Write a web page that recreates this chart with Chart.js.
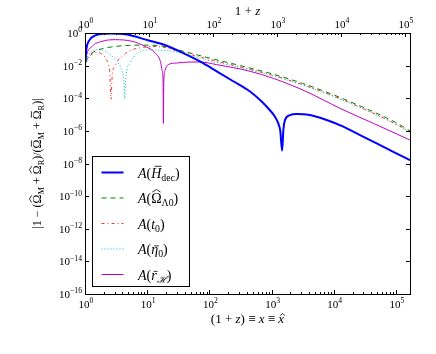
<!DOCTYPE html>
<html lang="en">
<head>
  <meta charset="UTF-8">
  <title>Flatness error vs redshift</title>
  <script src="https://cdn.jsdelivr.net/npm/chart.js"></script>
  <style>
    body { margin: 0; background: #fff; }
  </style>
</head>
<body>
  <canvas id="chart" width="436" height="354"></canvas>

  <script>
    // values (x = 1+z, y = |...|)
    const hdecX = [1.01, 1.05, 1.15, 1.47, 2.1, 2.6, 4.45, 10.6, 17.3, 38, 70.6, 131, 242, 450, 692, 933, 1122, 1280, 1380, 1475, 1550, 1641, 1977, 2520, 4140, 7690, 14200, 26400, 48900, 90500, 168000];
    const hdecY = [1.6e-2, 0.1, 0.32, 0.71, 0.91, 0.93, 0.83, 0.35, 0.21, 5.9e-2, 1.8e-2, 4.5e-3, 1.1e-3, 2.6e-4, 6.3e-5, 1.9e-5, 7.9e-6, 2.9e-6, 1.0e-6, 6.0e-8, 1.3e-6, 4.6e-6, 9.3e-6, 1.07e-5, 9.3e-6, 4.6e-6, 1.8e-6, 5.5e-7, 1.7e-7, 5.2e-8, 1.6e-8];

    const omegaX = [1.01, 1.05, 1.15, 1.3, 1.9, 2.7, 4.4, 7.7, 11, 17, 31.6, 100, 316, 1000, 3162, 10000, 31600, 100000, 168000];
    const omegaY = [5.0e-3, 1.6e-2, 3.5e-2, 5.9e-2, 0.11, 0.14, 0.17, 0.18, 0.18, 0.16, 9.1e-2, 2.9e-2, 1.0e-2, 3.2e-3, 8.1e-4, 1.6e-4, 2.5e-5, 3.2e-6, 1.0e-6];

    const t0X = [1.01, 1.1, 1.3, 1.55, 1.8, 2.1, 2.35, 2.5, 2.62, 2.75, 3.0, 3.5, 4.45, 6, 8.5, 12, 17, 31.6, 100, 316, 1000, 3162, 10000, 31600, 100000, 168000];
    const t0Y = [1.26e-2, 2.8e-2, 5.0e-2, 6.6e-2, 5.6e-2, 3.2e-2, 1.26e-2, 4.0e-3, 8.5e-5, 3.2e-3, 8.9e-3, 2.5e-2, 5.6e-2, 0.1, 0.13, 0.15, 0.14, 7.6e-2, 2.4e-2, 8.3e-3, 2.7e-3, 6.8e-4, 1.35e-4, 2.1e-5, 2.6e-6, 8.5e-7];

    const eta0X = [1.01, 1.08, 1.3, 1.66, 2.12, 3.07, 3.94, 4.2, 4.35, 4.5, 5.3, 6.8, 11.1, 23.3, 31.6, 100, 316, 1000, 3162, 10000, 31600, 100000, 168000];
    const eta0Y = [1.0e-2, 3.0e-2, 7.6e-2, 9.5e-2, 7.6e-2, 2.3e-2, 4.5e-3, 1.26e-3, 8.9e-5, 1.6e-3, 1.4e-2, 5.6e-2, 9.1e-2, 8.1e-2, 6.3e-2, 2.0e-2, 7.6e-3, 2.5e-3, 6.3e-4, 1.26e-4, 2.0e-5, 2.5e-6, 7.9e-7];

    const rhX = [1.01, 1.04, 1.3, 1.88, 3.07, 5.7, 9.3, 13.5, 16.3, 17.4, 18.0, 18.2, 18.5, 19.3, 21.8, 29.8, 48.8, 70.6, 131, 450, 1065, 3670, 12600, 43200, 168000];
    const rhY = [1.3e-2, 3.2e-2, 0.15, 0.31, 0.39, 0.31, 0.15, 5.9e-2, 1.8e-2, 5.0e-3, 1.0e-3, 2.9e-6, 1.0e-3, 5.0e-3, 1.15e-2, 1.45e-2, 1.66e-2, 1.66e-2, 1.15e-2, 4.5e-3, 1.66e-3, 2.5e-4, 2.4e-5, 2.9e-6, 2.75e-7];

    // tick exponents
    const yTickExp = [0, -2, -4, -6, -8, -10, -12, -14, -16];
    const xTickExp = [0, 1, 2, 3, 4, 5];
    const xTopExp = [0, 1, 2, 3, 4, 5];

    // legend labels, as math runs
    const legendLabels = [
      [{t: 'A', it: 1}, {t: '('}, {t: 'H', it: 1, acc: 'bar'}, {t: 'dec', sub: 1}, {t: ')'}],
      [{t: 'A', it: 1}, {t: '('}, {t: 'Ω', acc: 'hat'}, {t: 'Λ0', sub: 1}, {t: ')'}],
      [{t: 'A', it: 1}, {t: '('}, {t: 't', it: 1}, {t: '0', sub: 1}, {t: ')'}],
      [{t: 'A', it: 1}, {t: '('}, {t: 'η', it: 1, acc: 'bar', low: 1}, {t: '0', sub: 1}, {t: ')'}],
      [{t: 'A', it: 1}, {t: '('}, {t: 'r', it: 1, acc: 'bar', low: 1}, {t: 'ℋ', sub: 1, it: 1}, {t: ')'}]
    ];
    const yTitle = [{t: '|1 − ('}, {t: 'Ω', acc: 'hat'}, {t: 'M', sub: 1}, {t: ' + '}, {t: 'Ω', acc: 'hat'}, {t: 'R', sub: 1},
      {t: ')/('}, {t: 'Ω', acc: 'bar'}, {t: 'M', sub: 1}, {t: ' + '}, {t: 'Ω', acc: 'bar'}, {t: 'R', sub: 1}, {t: ')|'}];
    const xTitle = [{t: '(1 + '}, {t: 'z', it: 1}, {t: ') ≡ '}, {t: 'x', it: 1}, {t: ' ≡ '}, {t: 'x', it: 1, acc: 'hat', low: 1}];
    const xTopTitle = [{t: '1 + '}, {t: 'z', it: 1}];

    const FONT = '"Liberation Serif", "DejaVu Serif", serif';

    function pts(xs, ys) {
      return xs.map((x, i) => ({x: x, y: ys[i]}));
    }

    function setFont(ctx, s, size) {
      const sz = (s.sub || s.sup) ? size * 0.7 : size;
      ctx.font = (s.it ? 'italic ' : '') + sz + 'px ' + FONT;
      return sz;
    }

    function mathWidth(ctx, segs, size) {
      let w = 0;
      segs.forEach(s => { setFont(ctx, s, size); w += ctx.measureText(s.t).width; });
      return w;
    }

    function drawMath(ctx, segs, x, y, size, align) {
      const w = mathWidth(ctx, segs, size);
      let cx = align === 'center' ? x - w / 2 : (align === 'right' ? x - w : x);
      ctx.textAlign = 'left';
      ctx.textBaseline = 'alphabetic';
      ctx.fillStyle = '#000';
      ctx.strokeStyle = '#000';
      segs.forEach(s => {
        const sz = setFont(ctx, s, size);
        const dy = s.sub ? size * 0.22 : (s.sup ? -size * 0.42 : 0);
        const tw = ctx.measureText(s.t).width;
        ctx.fillText(s.t, cx, y + dy);
        if (s.acc) {
          const top = y + dy - sz * (s.low ? 0.58 : 0.8);
          const sh = s.it ? sz * 0.1 : 0;
          ctx.beginPath();
          ctx.lineWidth = 0.8;
          if (s.acc === 'bar') {
            ctx.moveTo(cx + tw * 0.2 + sh, top);
            ctx.lineTo(cx + tw * 0.9 + sh, top);
          } else {
            ctx.moveTo(cx + tw * 0.1 + sh, top + sz * 0.02);
            ctx.lineTo(cx + tw * 0.5 + sh, top - sz * 0.16);
            ctx.lineTo(cx + tw * 0.9 + sh, top + sz * 0.02);
          }
          ctx.stroke();
        }
        cx += tw;
      });
    }

    function powLabel(e) {
      return [{t: '10'}, {t: (e < 0 ? '−' + (-e) : String(e)), sup: 1}];
    }

    // ticks, frame, labels and legend in matplotlib style
    const axesDecor = {
      id: 'axesDecor',
      afterDatasetsDraw(chart) {
        const ctx = chart.ctx;
        const ca = chart.chartArea;
        const sx = chart.scales.x, sx2 = chart.scales.x2, sy = chart.scales.y;
        ctx.save();
        ctx.strokeStyle = '#000';
        ctx.lineWidth = 1;

        // y ticks both sides
        ctx.beginPath();
        yTickExp.forEach(e => {
          const py = Math.round(sy.getPixelForValue(Math.pow(10, e))) + 0.5;
          ctx.moveTo(ca.left, py); ctx.lineTo(ca.left + 4, py);
          ctx.moveTo(ca.right, py); ctx.lineTo(ca.right - 4, py);
        });
        // x ticks, bottom and top, with minor ones
        [[sx, ca.bottom, -1], [sx2, ca.top, 1]].forEach(([sc, base, dir]) => {
          for (let d = 0; d <= 5; d++) {
            for (let k = 1; k <= 9; k++) {
              const v = k * Math.pow(10, d);
              if (v < sc.min || v > sc.max) continue;
              const px = Math.round(sc.getPixelForValue(v)) + 0.5;
              const len = k === 1 ? 4 : 2;
              ctx.moveTo(px, base); ctx.lineTo(px, base + dir * len);
            }
          }
        });
        ctx.stroke();

        // frame
        ctx.strokeRect(Math.round(ca.left) + 0.5, Math.round(ca.top) + 0.5,
          Math.round(ca.right - ca.left), Math.round(ca.bottom - ca.top));

        // tick labels
        yTickExp.forEach(e => {
          const py = sy.getPixelForValue(Math.pow(10, e));
          drawMath(ctx, powLabel(e), ca.left - 3, py + 4, 11, 'right');
        });
        xTickExp.forEach(e => {
          const px = sx.getPixelForValue(Math.pow(10, e));
          drawMath(ctx, powLabel(e), px + 1, ca.bottom + 14, 11, 'center');
        });
        xTopExp.forEach(e => {
          const px = sx2.getPixelForValue(Math.pow(10, e));
          drawMath(ctx, powLabel(e), px + 1, ca.top - 5, 11, 'center');
        });

        // axis titles
        drawMath(ctx, xTitle, (ca.left + ca.right) / 2, 323, 13, 'center');
        drawMath(ctx, xTopTitle, (ca.left + ca.right) / 2, 15, 13, 'center');
        ctx.save();
        ctx.translate(37, (ca.top + ca.bottom) / 2);
        ctx.rotate(-Math.PI / 2);
        drawMath(ctx, yTitle, 0, 4, 12, 'center');
        ctx.restore();

        // legend box
        const lx = 92.5, ly = 156.5, lw = 97, lh = 130;
        ctx.fillStyle = '#fff';
        ctx.fillRect(lx, ly, lw, lh);
        ctx.strokeStyle = '#000';
        ctx.lineWidth = 1;
        ctx.strokeRect(lx, ly, lw, lh);
        chart.data.datasets.forEach((ds, i) => {
          const ry = 172.5 + i * 25.5;
          ctx.save();
          ctx.beginPath();
          ctx.strokeStyle = ds.borderColor;
          ctx.lineWidth = ds.borderWidth;
          ctx.setLineDash(ds.borderDash || []);
          ctx.moveTo(101.5, ry); ctx.lineTo(123.5, ry);
          ctx.stroke();
          ctx.restore();
          drawMath(ctx, legendLabels[i], 138, ry + 5, 14, 'left');
        });
        ctx.restore();
      }
    };

    const ctx = document.getElementById('chart').getContext('2d');
    const chart = new Chart(ctx, {
      type: 'line',
      data: {
        datasets: [{
          data: pts(hdecX, hdecY),
          borderColor: '#0000ff',
          borderWidth: 2
        }, {
          data: pts(omegaX, omegaY),
          borderColor: '#008000',
          borderWidth: 1,
          borderDash: [5, 4]
        }, {
          data: pts(t0X, t0Y),
          borderColor: '#ff3030',
          borderWidth: 1,
          borderDash: [3, 3, 1, 3]
        }, {
          data: pts(eta0X, eta0Y),
          borderColor: '#00bfbf',
          borderWidth: 1,
          borderDash: [1, 2]
        }, {
          data: pts(rhX, rhY),
          borderColor: '#bf00bf',
          borderWidth: 1
        }]
      },
      options: {
        responsive: false,
        animation: false,
        cubicInterpolationMode: 'monotone',
        elements: { point: { radius: 0 } },
        layout: { padding: { left: 0, right: 26, top: 0, bottom: 0 } },
        plugins: { legend: { display: false }, tooltip: { enabled: false } },
        scales: {
          x: {
            type: 'logarithmic', position: 'bottom', min: 1, max: 1.68e5,
            ticks: { display: false }, grid: { display: false }, border: { display: false },
            afterFit(s) { s.height = 60; }
          },
          x2: {
            type: 'logarithmic', position: 'top', min: 1, max: 1.2e5,
            ticks: { display: false }, grid: { display: false }, border: { display: false },
            afterFit(s) { s.height = 33; }
          },
          y: {
            type: 'logarithmic', min: 1e-16, max: 1,
            ticks: { display: false }, grid: { display: false }, border: { display: false },
            afterFit(s) { s.width = 85; }
          }
        }
      },
      plugins: [axesDecor]
    });
  </script>
</body>
</html>
